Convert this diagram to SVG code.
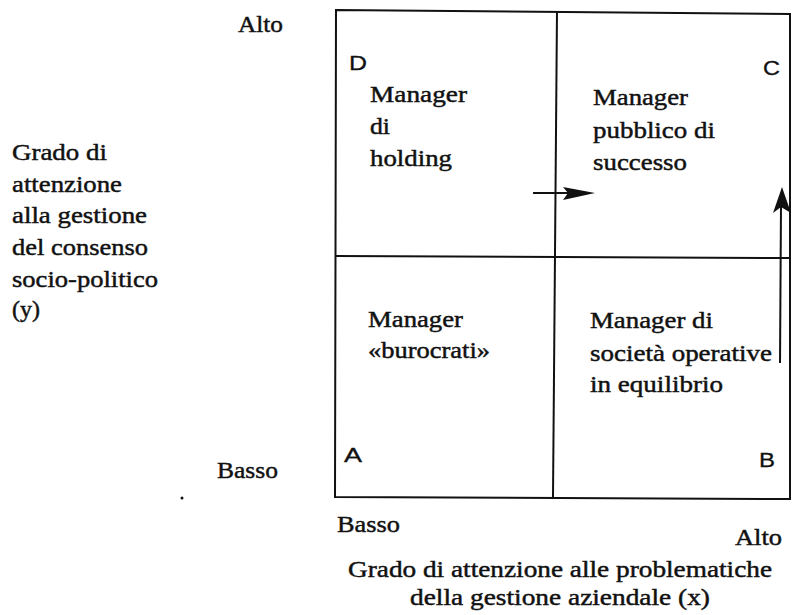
<svg xmlns="http://www.w3.org/2000/svg" width="792" height="615" viewBox="0 0 792 615">
<style>
  text { font-family: "Liberation Serif", "Times New Roman", serif; font-size: 23px; fill: #111; stroke: #111; stroke-width: 0.45; }
  .corner { font-family: "Liberation Sans", Arial, sans-serif; font-size: 20px; stroke-width: 0.3; }
  .frame { fill: none; stroke: #111; stroke-width: 2; }
  .conn { stroke: #111; stroke-width: 2; fill: none; }
  .head { fill: #111; stroke: none; }
</style>
<rect width="792" height="615" fill="#fff"/>

<g id="grid">
  <polygon class="frame" points="336,10 790,14 790,499 335,497"/>
  <line class="frame" x1="557" y1="11" x2="553" y2="497"/>
  <line class="frame" x1="336" y1="256" x2="790" y2="258"/>
</g>

<g id="quadrant-D">
  <text class="corner" x="349" y="70" textLength="18" lengthAdjust="spacingAndGlyphs">D</text>
  <text x="370" y="102" textLength="97" lengthAdjust="spacingAndGlyphs">Manager</text>
  <text x="370" y="134" textLength="20" lengthAdjust="spacingAndGlyphs">di</text>
  <text x="370" y="166" textLength="82" lengthAdjust="spacingAndGlyphs">holding</text>
</g>

<g id="quadrant-C">
  <text class="corner" x="763" y="75" textLength="17" lengthAdjust="spacingAndGlyphs">C</text>
  <text x="593" y="105" textLength="95" lengthAdjust="spacingAndGlyphs">Manager</text>
  <text x="593" y="138" textLength="122" lengthAdjust="spacingAndGlyphs">pubblico di</text>
  <text x="593" y="170" textLength="94" lengthAdjust="spacingAndGlyphs">successo</text>
</g>

<g id="quadrant-A">
  <text class="corner" x="344" y="462" textLength="18" lengthAdjust="spacingAndGlyphs">A</text>
  <text x="368" y="327" textLength="95" lengthAdjust="spacingAndGlyphs">Manager</text>
  <text x="368" y="358" textLength="122" lengthAdjust="spacingAndGlyphs">«burocrati»</text>
</g>

<g id="quadrant-B">
  <text class="corner" x="759" y="467" textLength="16" lengthAdjust="spacingAndGlyphs">B</text>
  <text x="590" y="328" textLength="123" lengthAdjust="spacingAndGlyphs">Manager di</text>
  <text x="590" y="361" textLength="182" lengthAdjust="spacingAndGlyphs">società operative</text>
  <text x="590" y="392" textLength="133" lengthAdjust="spacingAndGlyphs">in equilibrio</text>
</g>

<g id="y-axis">
  <text x="238" y="32" textLength="45" lengthAdjust="spacingAndGlyphs">Alto</text>
  <text x="217" y="478" textLength="61" lengthAdjust="spacingAndGlyphs">Basso</text>
  <text x="12" y="160" textLength="95" lengthAdjust="spacingAndGlyphs">Grado di</text>
  <text x="12" y="192" textLength="110" lengthAdjust="spacingAndGlyphs">attenzione</text>
  <text x="12" y="223" textLength="135" lengthAdjust="spacingAndGlyphs">alla gestione</text>
  <text x="12" y="255" textLength="136" lengthAdjust="spacingAndGlyphs">del consenso</text>
  <text x="12" y="287" textLength="146" lengthAdjust="spacingAndGlyphs">socio-politico</text>
  <text x="12" y="317" textLength="28" lengthAdjust="spacingAndGlyphs">(y)</text>
  <circle cx="182" cy="498" r="1.5" fill="#111"/>
</g>

<g id="x-axis">
  <text x="337" y="532" textLength="63" lengthAdjust="spacingAndGlyphs">Basso</text>
  <text x="735" y="545" textLength="47" lengthAdjust="spacingAndGlyphs">Alto</text>
  <text x="348" y="577" textLength="424" lengthAdjust="spacingAndGlyphs">Grado di attenzione alle problematiche</text>
  <text x="410" y="605" textLength="300" lengthAdjust="spacingAndGlyphs">della gestione aziendale (x)</text>
</g>

<g id="connectors">
  <line class="conn" x1="533" y1="193" x2="570" y2="193"/>
  <polygon class="head" points="595,193 563,187 568,193 563,200"/>
  <line class="conn" x1="780" y1="363" x2="781" y2="205"/>
  <polygon class="head" points="782,187 773,213 781,207 791,213"/>
</g>
</svg>
